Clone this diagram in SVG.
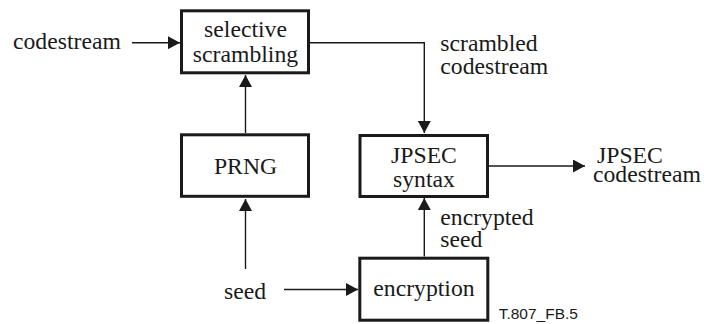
<svg xmlns="http://www.w3.org/2000/svg" width="704" height="324" viewBox="0 0 704 324">
<style>
.box{fill:#fff;stroke:#1a1a1a;stroke-width:3}
text.t{font-family:'Liberation Serif','Times New Roman',serif;font-size:23.7px;fill:#1a1a1a}
text.c{text-anchor:middle}
.ln{fill:none;stroke:#1a1a1a;stroke-width:1.4}
text.s{font-family:'Liberation Sans',Arial,sans-serif;font-size:15.5px;fill:#1a1a1a}
</style>
<defs>
<marker id="ah" markerWidth="12" markerHeight="13" refX="12" refY="6.5" orient="auto" markerUnits="userSpaceOnUse">
<path d="M0,0 L12,6.5 L0,13 Z" fill="#1a1a1a"/>
</marker>
</defs>
<g id="connectors">
<line class="ln" x1="132" y1="42.7" x2="180" y2="42.7" marker-end="url(#ah)"/>
<line class="ln" x1="245.5" y1="133" x2="245.5" y2="75" marker-end="url(#ah)"/>
<polyline class="ln" points="310,42.7 424.3,42.7 424.3,133" marker-end="url(#ah)"/>
<line class="ln" x1="245.5" y1="269" x2="245.5" y2="199" marker-end="url(#ah)"/>
<line class="ln" x1="284" y1="289.5" x2="358" y2="289.5" marker-end="url(#ah)"/>
<line class="ln" x1="424.3" y1="256.5" x2="424.3" y2="198" marker-end="url(#ah)"/>
<line class="ln" x1="489" y1="166" x2="585" y2="166" marker-end="url(#ah)"/>
</g>
<g id="input-label"><text class="t" x="13" y="49">codestream</text></g>
<g id="selective-scrambling">
<rect class="box" x="181.5" y="10.8" width="127" height="62"/>
<text class="t c" x="245.5" y="36.7">selective</text>
<text class="t c" x="245.5" y="61.7">scrambling</text>
</g>
<g id="scrambled-label">
<text class="t" x="440.3" y="50.5">scrambled</text>
<text class="t" x="440.3" y="74">codestream</text>
</g>
<g id="prng">
<rect class="box" x="181.5" y="134.8" width="127" height="61.5"/>
<text class="t c" x="245.5" y="174.3">PRNG</text>
</g>
<g id="jpsec-syntax">
<rect class="box" x="360" y="135.5" width="127.5" height="61"/>
<text class="t c" x="424" y="163">JPSEC</text>
<text class="t c" x="424" y="187">syntax</text>
</g>
<g id="output-label">
<text class="t" x="597" y="163.3">JPSEC</text>
<text class="t" x="593" y="181.7">codestream</text>
</g>
<g id="seed-label"><text class="t" x="224" y="298.5">seed</text></g>
<g id="encrypted-label">
<text class="t" x="440.3" y="225">encrypted</text>
<text class="t" x="440.3" y="246.7">seed</text>
</g>
<g id="encryption">
<rect class="box" x="359.8" y="258.2" width="128" height="62"/>
<text class="t c" x="424" y="296">encryption</text>
</g>
<g id="figure-id"><text class="s" x="498.7" y="318.7">T.807_FB.5</text></g>
</svg>
